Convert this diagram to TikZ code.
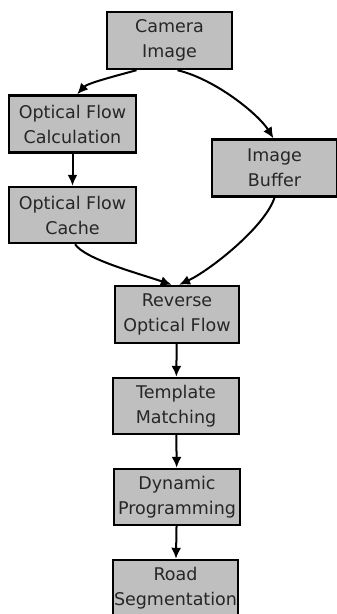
\documentclass[tikz,border=0pt]{standalone}
\usepackage{fontspec}
\setmainfont{DejaVu Sans}
\usetikzlibrary{arrows.meta}
\begin{document}
\begin{tikzpicture}[x=1pt,y=-1pt,
  box/.style={draw=black, line width=2.4pt, fill=black!25, minimum height=57pt,
    align=center, inner sep=0pt, font=\fontsize{17.5}{25}\selectfont, text=black!85},
  arr/.style={line width=2pt, -{Latex[length=11pt,width=10pt]}}]
\useasboundingbox (0,0) rectangle (337,614);
\node[box, minimum width=125pt] (cam) at (169.5,40.5) {Camera\\Image};
\node[box, minimum width=127pt] (calc) at (72.5,124) {Optical Flow\\Calculation};
\node[box, minimum width=125pt] (buf) at (274.5,168) {Image\\Buffer};
\node[box, minimum width=127pt, minimum height=56pt] (cache) at (72.5,215) {Optical Flow\\Cache};
\node[box, minimum width=124pt] (rev) at (177,314.5) {Reverse\\Optical Flow};
\node[box, minimum width=126pt, minimum height=56pt] (tm) at (176,406) {Template\\Matching};
\node[box, minimum width=126pt, minimum height=56pt] (dp) at (177,497) {Dynamic\\Programming};
\node[box, minimum width=125pt, minimum height=56pt] (rs) at (175.5,588) {Road\\Segmentation};
\draw[arr] (cam.222) .. controls +(-22,6) and +(10,-11) .. (calc.81);
\draw[arr] (cam.285) .. controls +(38,9) and +(-15,-24) .. (buf.92);
\draw[arr] (calc) -- (cache);
\draw[arr] (cache.275) .. controls +(10,15) and +(-35,-12) .. (rev.100);
\draw[arr] (buf.south) .. controls +(-10,30) and +(30,-14) .. (rev.86);
\draw[arr] (rev) -- (tm);
\draw[arr] (tm) -- (dp);
\draw[arr] (dp) -- (rs);
\end{tikzpicture}
\end{document}
